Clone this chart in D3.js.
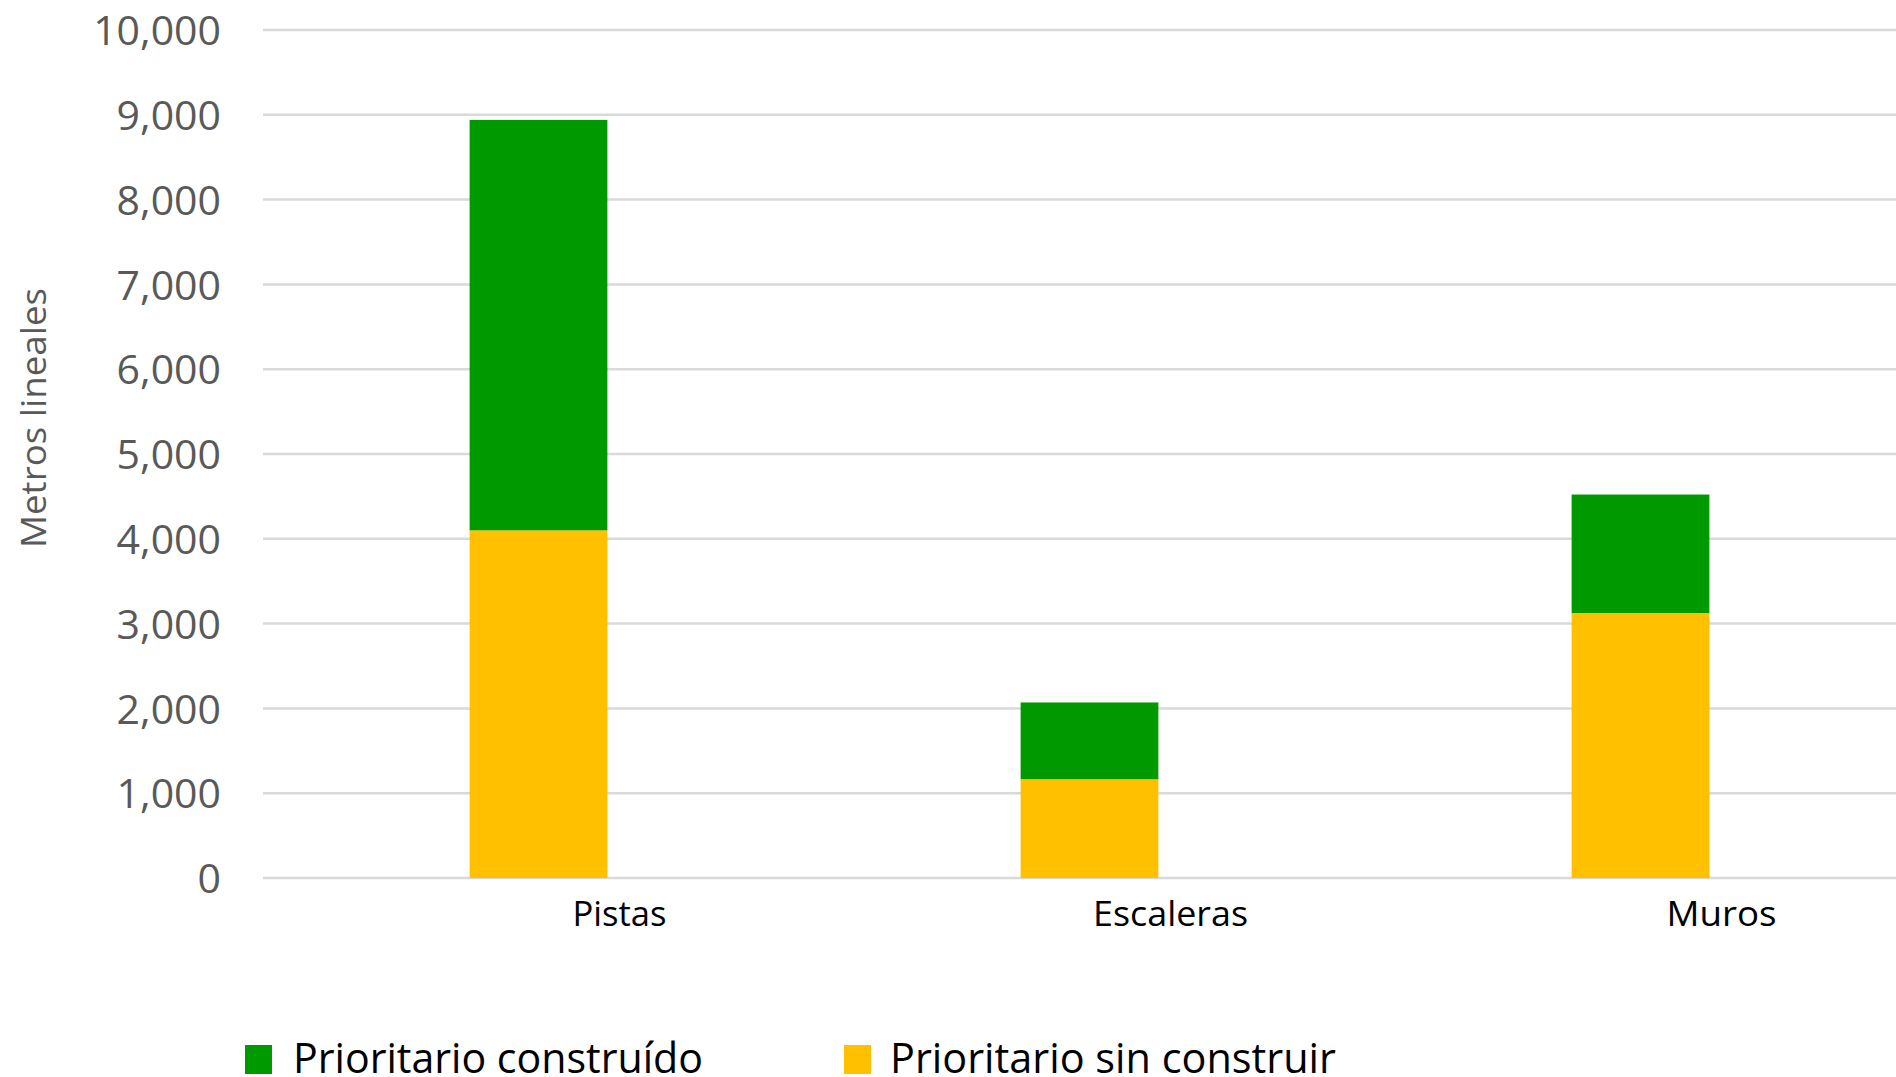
<!DOCTYPE html>
<html>
<head>
<meta charset="utf-8">
<script src="https://cdn.jsdelivr.net/npm/d3@7"></script>
<style>
  html, body { margin: 0; padding: 0; background: #ffffff; overflow: hidden; }
  svg { display: block; }
</style>
</head>
<body>
<svg id="chart" width="1896" height="1077"></svg>
<script>
const categories = ["Pistas", "Escaleras", "Muros"];
const seriesNames = ["Prioritario construído", "Prioritario sin construir"];
const sinConstruir = [4100, 1165, 3125];
const construido = [4840, 905, 1397];
const yTicks = [0, 1000, 2000, 3000, 4000, 5000, 6000, 7000, 8000, 9000, 10000];
const yTitle = "Metros lineales";
const colors = { construido: "#009900", sin: "#FFC000" };

const svg = d3.select("#chart");
const W = 1896, H = 1077;

const x = d3.scaleBand().domain(categories).range([263, 1916]).paddingInner(0.75).paddingOuter(0.375);
const y = d3.scaleLinear().domain([0, 10000]).range([878, 30]);

// gridlines
svg.append("g").selectAll("line").data(yTicks).join("line")
  .attr("x1", 263).attr("x2", W)
  .attr("y1", d => y(d)).attr("y2", d => y(d))
  .attr("stroke", "#d9d9d9").attr("stroke-width", 2.5);

// y axis labels
const yAxis = d3.axisLeft(y).tickValues(yTicks).tickSize(0).tickPadding(0).tickFormat(d3.format(","));
const ga = svg.append("g").attr("transform", "translate(221,0)").call(yAxis);
ga.select(".domain").remove();
ga.selectAll("text")
  .attr("fill", "#595959")
  .style("font-family", "'Open Sans', sans-serif")
  .style("font-size", "41px")
  .attr("dy", "0.36em");

// stacked data
const rows = categories.map((c, i) => ({ cat: c, sin: sinConstruir[i], construido: construido[i] }));
const stack = d3.stack().keys(["sin", "construido"]);
const stacked = stack(rows);

svg.append("g").selectAll("g").data(stacked).join("g")
  .attr("fill", d => d.key === "sin" ? colors.sin : colors.construido)
  .selectAll("rect").data(d => d).join("rect")
  .attr("x", d => x(d.data.cat))
  .attr("width", x.bandwidth())
  .attr("y", d => y(d[1]))
  .attr("height", d => y(d[0]) - y(d[1]));

// category labels
const catWidths = { "Pistas": 94, "Escaleras": 155, "Muros": 110 };
svg.append("g").selectAll("text").data(categories).join("text")
  .attr("x", d => x(d) + x.bandwidth() / 2 + 81)
  .attr("y", 926)
  .attr("text-anchor", "middle")
  .attr("fill", "#000000")
  .style("font-family", "'Open Sans', sans-serif")
  .style("font-size", "35px")
  .attr("textLength", d => catWidths[d])
  .attr("lengthAdjust", "spacingAndGlyphs")
  .text(d => d);

// y title
svg.append("text")
  .attr("transform", "translate(46,418) rotate(-90)")
  .attr("text-anchor", "middle")
  .attr("fill", "#595959")
  .style("font-family", "'Open Sans', sans-serif")
  .style("font-size", "35px")
  .attr("textLength", 260)
  .attr("lengthAdjust", "spacingAndGlyphs")
  .text(yTitle);

// legend
const legendItems = [
  { name: seriesNames[0], color: colors.construido, sx: 245, tx: 293, w: 410 },
  { name: seriesNames[1], color: colors.sin, sx: 844, tx: 890, w: 446 }
];
const lg = svg.append("g");
lg.selectAll("rect").data(legendItems).join("rect")
  .attr("x", d => d.sx).attr("y", 1045).attr("width", 27).attr("height", 29)
  .attr("fill", d => d.color);
lg.selectAll("text").data(legendItems).join("text")
  .attr("x", d => d.tx).attr("y", 1073)
  .attr("fill", "#000000")
  .style("font-family", "'Open Sans', sans-serif")
  .style("font-size", "42px")
  .attr("textLength", d => d.w)
  .attr("lengthAdjust", "spacingAndGlyphs")
  .text(d => d.name);
</script>
</body>
</html>
